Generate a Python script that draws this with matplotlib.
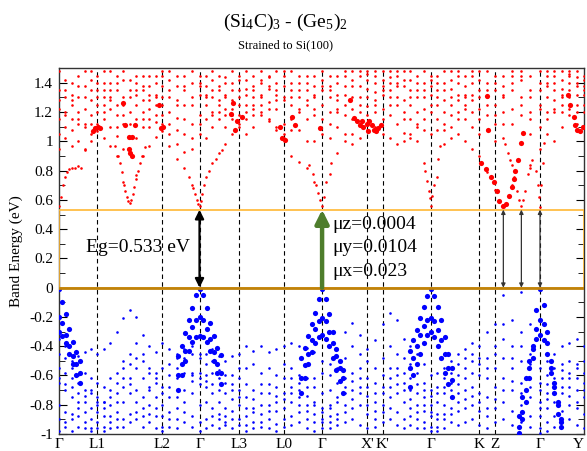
import numpy as np
import matplotlib
matplotlib.use('Agg')
import matplotlib.pyplot as plt
from matplotlib.patches import Rectangle
from matplotlib.ticker import MultipleLocator, FuncFormatter

plt.rcParams['font.family'] = ['Liberation Serif', 'DejaVu Serif']
plt.rcParams['mathtext.fontset'] = 'custom'
plt.rcParams['mathtext.rm'] = 'Liberation Serif'
plt.rcParams['mathtext.it'] = 'Liberation Serif:italic'
plt.rcParams['axes.unicode_minus'] = False

# ---------------- data ----------------
tick_pos = [0, 38.6, 103, 140.6, 179.6, 224.6, 263, 308, 323.6, 371.3, 420, 435.6, 480.6, 524.6]
tick_labels = ['Γ', 'L1', 'L2', 'Γ', 'L3', 'L0', 'Γ', "X'", "K'", 'Γ', 'K', 'Z', 'Γ', 'Y']
gamma_pos = [0, 140.6, 263, 371.3, 480.6]
gap = 0.533
mu_text = ['μz=0.0004', 'μy=0.0104', 'μx=0.023']
extra_arrow_k = [444, 462, 480.6]

# k-points along the path
K = [0, 6.5, 13, 19.5, 26, 32.5, 38.6,
     45, 51.5, 58, 64.5, 71, 77.5, 84, 90.5, 97, 103,
     110.5, 118, 125.5, 133, 140.6,
     147, 153.5, 160, 166.5, 173, 179.6,
     187, 194.5, 202, 209.5, 217, 224.6,
     232, 240, 247.5, 255, 263,
     270.5, 278, 285.5, 293, 300.5, 308,
     315.8, 323.6,
     330.5, 337.5, 344.5, 351, 358, 364.5, 371.3,
     378, 385, 392, 399, 406, 413, 420,
     428, 435.6,
     444, 453, 462, 471, 480.6,
     488, 495, 502.5, 510, 517.5, 524.6]

# conduction bands (small red dots)
cb1 = [0.56, 0.76, 0.82, 0.83, 0.95, 1.00, 1.07,
       1.02, 0.97, 0.90, 0.72, 0.58, 0.77, 0.90, 0.97, 1.03, 1.07,
       0.97, 0.88, 0.82, 0.70, 0.56,
       0.76, 0.85, 0.92, 0.98, 1.05, 1.10,
       1.15, 1.22, 1.18, 1.14, 1.08, 1.02,
       0.90, 0.86, 0.82, 0.72, 0.56,
       0.78, 0.92, 1.00, 1.05, 1.12, 1.18,
       1.20, 1.22,
       1.18, 1.12, 1.06, 1.02, 1.00, 0.85, 0.56,
       0.76, 0.98, 1.02, 1.05, 1.00, 0.95, 0.90,
       0.79, 0.67,
       0.56, 0.70, 0.56, 0.82, 0.55,
       1.05, 1.00, 1.10, 1.22, 1.12, 1.10]
cb2 = [1.05, 1.02, 0.97, 1.00, 0.94, 1.05, 1.12,
       1.15, 1.10, 1.04, 0.95, 0.93, 1.02, 1.10, 1.15, 1.13, 1.12,
       1.05, 0.98, 0.93, 0.95, 1.05,
       1.02, 1.10, 1.15, 1.18, 1.22, 1.18,
       1.25, 1.30, 1.32, 1.27, 1.22, 1.12,
       1.15, 1.08, 1.00, 1.00, 1.05,
       1.02, 1.10, 1.18, 1.22, 1.25, 1.30,
       1.28, 1.32,
       1.30, 1.25, 1.20, 1.15, 1.12, 1.08, 1.05,
       1.08, 1.12, 1.18, 1.20, 1.15, 1.10, 1.05,
       1.08, 1.00,
       1.02, 0.84, 0.99, 0.84, 0.95,
       1.20, 1.22, 1.30, 1.35, 1.25, 1.20]
cb3 = [1.22, 1.18, 1.25, 1.30, 1.22, 1.28, 1.25,
       1.20, 1.28, 1.35, 1.30, 1.12, 1.25, 1.35, 1.22, 1.18, 1.25,
       1.20, 1.16, 1.15, 1.12, 1.18,
       1.25, 1.30, 1.38, 1.32, 1.28, 1.25,
       1.32, 1.38, 1.40, 1.36, 1.32, 1.28,
       1.30, 1.22, 1.15, 1.18, 1.25,
       1.20, 1.28, 1.32, 1.30, 1.38, 1.42,
       1.40, 1.38,
       1.35, 1.30, 1.28, 1.25, 1.30, 1.22, 1.20,
       1.25, 1.28, 1.30, 1.32, 1.25, 1.20, 1.22,
       1.18, 1.12,
       1.20, 1.35, 1.30, 1.05, 1.10,
       1.30, 1.35, 1.42, 1.40, 1.38, 1.32]
cb4 = [1.35, 1.42, 1.40, 1.45, 1.38, 1.42, 1.35,
       1.30, 1.40, 1.45, 1.42, 1.30, 1.40, 1.45, 1.38, 1.32, 1.30,
       1.35, 1.28, 1.25, 1.30, 1.32,
       1.38, 1.42, 1.45, 1.44, 1.40, 1.35,
       1.42, 1.45, 1.48, 1.44, 1.40, 1.38,
       1.40, 1.35, 1.28, 1.32, 1.38,
       1.35, 1.40, 1.45, 1.42, 1.48, 1.46,
       1.45, 1.48,
       1.44, 1.40, 1.38, 1.35, 1.40, 1.35, 1.32,
       1.35, 1.40, 1.42, 1.45, 1.38, 1.32, 1.35,
       1.30, 1.25,
       1.32, 1.45, 1.42, 1.20, 1.25,
       1.40, 1.45, 1.48, 1.46, 1.44, 1.42]
cb5 = [1.15, 1.10, 1.15, 1.20, 1.12, 1.18, 1.20,
       1.25, 1.22, 1.18, 1.12, 1.02, 1.15, 1.20, 1.28, 1.25, 1.18,
       1.12, 1.08, 1.05, 1.02, 1.12,
       1.15, 1.20, 1.25, 1.22, 1.15, 1.12,
       1.05, 1.10, 1.20, 1.15, 1.10, 1.05,
       1.08, 1.20, 1.25, 1.22, 1.15,
       1.12, 1.20, 1.05, 0.98, 1.02, 1.08,
       1.10, 1.05,
       1.02, 0.98, 1.00, 1.05, 1.10, 1.15, 1.25,
       1.15, 1.08, 1.10, 1.15, 1.22, 1.28, 1.30,
       1.25, 1.18,
       1.12, 1.22, 1.18, 1.15, 1.22,
       1.15, 1.28, 1.32, 1.18, 1.20, 1.25]
cb6 = [1.48, 1.30, 1.32, 1.12, 1.48, 1.35, 1.45,
       1.40, 1.48, 1.25, 1.48, 1.42, 1.32, 1.28, 1.45, 1.40, 1.45,
       1.42, 1.38, 1.45, 1.40, 1.45,
       1.45, 1.35, 1.28, 1.40, 1.48, 1.45,
       1.36, 1.25, 1.30, 1.45, 1.48, 1.45,
       1.48, 1.45, 1.40, 1.45, 1.35,
       1.45, 1.32, 1.38, 1.48, 1.20, 1.36,
       1.25, 1.42,
       1.48, 1.45, 1.48, 1.42, 1.45, 1.40, 1.45,
       1.45, 1.48, 1.36, 1.40, 1.45, 1.48, 1.42,
       1.40, 1.45,
       1.45, 1.48, 1.45, 1.35, 1.40,
       1.48, 1.40, 1.36, 1.30, 1.48, 1.45]
cb7 = [1.28, 1.35, 1.08, 1.15, 1.30, 1.12, 1.30,
       1.35, 1.30, 1.40, 1.18, 1.20, 1.35, 1.38, 1.32, 1.45, 1.38,
       1.30, 1.45, 1.35, 1.25, 1.38,
       1.32, 1.18, 1.20, 1.30, 1.35, 1.42,
       1.20, 1.18, 1.25, 1.22, 1.28, 1.30,
       1.25, 1.30, 1.35, 1.30, 1.42,
       1.30, 1.45, 1.25, 1.15, 1.30, 1.24,
       1.34, 1.15,
       1.25, 1.38, 1.15, 1.30, 1.20, 1.30, 1.38,
       1.30, 1.20, 1.25, 1.28, 1.32, 1.40, 1.15,
       1.35, 1.40,
       1.38, 1.12, 1.25, 1.30, 1.35,
       1.38, 1.20, 1.25, 1.45, 1.32, 1.35]
cb8 = [0.95, 1.20, 1.28, 1.38, 1.10, 1.48, 1.40,
       1.48, 1.35, 1.10, 1.25, 1.35, 1.45, 1.15, 1.10, 1.30, 1.48,
       1.48, 1.25, 1.38, 1.48, 1.40,
       1.30, 1.48, 1.35, 1.10, 1.18, 1.30,
       1.48, 1.35, 1.42, 1.38, 1.35, 1.48,
       1.35, 1.40, 1.45, 1.38, 1.48,
       1.38, 1.22, 1.48, 1.38, 1.45, 1.48,
       1.48, 1.35,
       1.40, 1.48, 1.42, 1.48, 1.35, 1.48, 1.42,
       1.40, 1.35, 1.48, 1.48, 1.30, 1.45, 1.48,
       1.48, 1.35,
       1.30, 1.40, 1.48, 1.45, 1.48,
       1.45, 1.48, 1.20, 1.48, 1.40, 1.38]

# extra small red dots along the conduction-band valleys
cv_k = [2, 4, 8, 10, 16, 22,
        56, 59, 61, 63, 65, 66, 68, 69.5, 72.5, 74, 75.5, 77, 79, 81, 83, 86,
        130, 134, 136, 138, 139.5, 142, 143.5, 145, 150, 157, 163,
        250, 254, 257, 259, 261, 265, 267, 272,
        366, 368, 369.5, 370.5, 373, 375, 379, 381,
        446, 449, 451, 455, 458, 460, 464, 466, 469, 473,
        477, 478.5, 479.5, 482, 483.5, 485]
cv_e = [0.62, 0.70, 0.79, 0.81, 0.82, 0.82,
        0.97, 0.90, 0.85, 0.79, 0.70, 0.66, 0.62, 0.59, 0.60, 0.64, 0.69, 0.74, 0.80, 0.85, 0.90, 0.96,
        0.76, 0.68, 0.64, 0.60, 0.57, 0.59, 0.64, 0.70, 0.80, 0.88, 0.94,
        0.84, 0.78, 0.70, 0.65, 0.60, 0.62, 0.72, 0.85,
        0.80, 0.73, 0.66, 0.61, 0.63, 0.70, 0.88, 0.97,
        0.98, 0.92, 0.87, 0.76, 0.66, 0.60, 0.60, 0.66, 0.78, 0.87,
        0.80, 0.70, 0.62, 0.70, 0.85, 0.99]

# valence bands (small blue dots)
vb1 = [-0.45, -0.48, -0.50, -0.47, -0.44, -0.42, -0.45,
       -0.42, -0.38, -0.30, -0.21, -0.15, -0.20, -0.32, -0.40, -0.44, -0.38,
       -0.42, -0.45, -0.50, -0.58, -0.62,
       -0.60, -0.50, -0.47, -0.50, -0.47, -0.45,
       -0.40, -0.43, -0.40, -0.44, -0.42, -0.40,
       -0.38, -0.40, -0.41, -0.44, -0.50,
       -0.52, -0.42, -0.30, -0.24, -0.32, -0.42,
       -0.36, -0.25,
       -0.17, -0.22, -0.35, -0.40, -0.45, -0.52, -0.60,
       -0.58, -0.55, -0.50, -0.45, -0.42, -0.38, -0.40,
       -0.30, -0.25,
       -0.05, -0.22, -0.03, -0.25, -0.55,
       -0.50, -0.45, -0.40, -0.38, -0.35, -0.40]
vb2 = [-0.55, -0.58, -0.62, -0.65, -0.70, -0.72, -0.75,
       -0.78, -0.75, -0.65, -0.55, -0.45, -0.38, -0.45, -0.55, -0.62, -0.68,
       -0.60, -0.55, -0.48, -0.45, -0.48,
       -0.52, -0.58, -0.62, -0.65, -0.60, -0.55,
       -0.55, -0.52, -0.58, -0.55, -0.60, -0.52,
       -0.55, -0.60, -0.68, -0.62, -0.58,
       -0.60, -0.55, -0.48, -0.40, -0.45, -0.50,
       -0.55, -0.48,
       -0.40, -0.45, -0.48, -0.52, -0.58, -0.65, -0.70,
       -0.68, -0.62, -0.58, -0.52, -0.55, -0.50, -0.48,
       -0.55, -0.45,
       -0.25, -0.40, -0.30, -0.45, -0.65,
       -0.60, -0.55, -0.52, -0.50, -0.55, -0.58]
vb3 = [-0.65, -0.70, -0.75, -0.72, -0.78, -0.82, -0.80,
       -0.78, -0.80, -0.72, -0.68, -0.62, -0.55, -0.62, -0.70, -0.75, -0.72,
       -0.68, -0.62, -0.58, -0.60, -0.66,
       -0.68, -0.72, -0.78, -0.82, -0.76, -0.75,
       -0.82, -0.85, -0.80, -0.84, -0.78, -0.72,
       -0.68, -0.65, -0.62, -0.68, -0.72,
       -0.70, -0.65, -0.62, -0.58, -0.55, -0.62,
       -0.65, -0.60,
       -0.55, -0.60, -0.65, -0.70, -0.72, -0.75, -0.80,
       -0.78, -0.72, -0.65, -0.60, -0.62, -0.58, -0.60,
       -0.62, -0.55,
       -0.48, -0.55, -0.50, -0.62, -0.78,
       -0.72, -0.68, -0.62, -0.58, -0.62, -0.65]
vb4 = [-0.80, -0.85, -0.90, -0.88, -0.85, -0.90, -0.78,
       -0.82, -0.88, -0.85, -0.78, -0.72, -0.70, -0.75, -0.80, -0.88, -0.95,
       -0.85, -0.75, -0.70, -0.72, -0.80,
       -0.78, -0.82, -0.86, -0.88, -0.84, -0.80,
       -0.88, -0.82, -0.86, -0.80, -0.84, -0.82,
       -0.72, -0.75, -0.80, -0.78, -0.82,
       -0.80, -0.78, -0.72, -0.70, -0.68, -0.74,
       -0.78, -0.72,
       -0.68, -0.72, -0.78, -0.82, -0.85, -0.80, -0.85,
       -0.86, -0.80, -0.75, -0.72, -0.70, -0.68, -0.72,
       -0.75, -0.68,
       -0.62, -0.70, -0.65, -0.75, -0.88,
       -0.82, -0.78, -0.72, -0.68, -0.70, -0.75]
vb5 = [-0.90, -0.95, -0.98, -0.95, -0.92, -0.96, -0.92,
       -0.95, -0.92, -0.95, -0.90, -0.86, -0.85, -0.88, -0.92, -0.96, -0.98,
       -0.95, -0.90, -0.85, -0.88, -0.92,
       -0.90, -0.94, -0.96, -0.92, -0.96, -0.90,
       -0.94, -0.92, -0.95, -0.90, -0.93, -0.90,
       -0.88, -0.85, -0.90, -0.92, -0.96,
       -0.92, -0.90, -0.85, -0.82, -0.80, -0.86,
       -0.90, -0.85,
       -0.82, -0.85, -0.90, -0.94, -0.96, -0.92, -0.95,
       -0.95, -0.90, -0.86, -0.84, -0.82, -0.80, -0.84,
       -0.88, -0.82,
       -0.78, -0.84, -0.80, -0.88, -0.96,
       -0.92, -0.88, -0.84, -0.80, -0.82, -0.86]
vb6 = [-0.35, -0.40, -0.55, -0.60, -0.58, -0.62, -0.65,
       -0.68, -0.62, -0.58, -0.50, -0.52, -0.48, -0.50, -0.58, -0.65, -0.55,
       -0.52, -0.48, -0.42, -0.40, -0.45,
       -0.45, -0.42, -0.56, -0.60, -0.66, -0.70,
       -0.75, -0.70, -0.66, -0.72, -0.68, -0.62,
       -0.62, -0.70, -0.74, -0.80, -0.85,
       -0.82, -0.75, -0.68, -0.64, -0.62, -0.68,
       -0.72, -0.68,
       -0.62, -0.55, -0.58, -0.62, -0.66, -0.70, -0.74,
       -0.72, -0.68, -0.70, -0.66, -0.48, -0.45, -0.52,
       -0.48, -0.40,
       -0.35, -0.48, -0.40, -0.52, -0.70,
       -0.66, -0.62, -0.56, -0.62, -0.52, -0.50]
vb7 = [-0.62, -0.66, -0.68, -0.78, -0.74, -0.70, -0.85,
       -0.88, -0.70, -0.78, -0.62, -0.66, -0.78, -0.82, -0.68, -0.58, -0.80,
       -0.75, -0.82, -0.78, -0.64, -0.58,
       -0.64, -0.66, -0.70, -0.72, -0.70, -0.62,
       -0.66, -0.76, -0.72, -0.66, -0.74, -0.76,
       -0.78, -0.80, -0.84, -0.86, -0.90,
       -0.88, -0.86, -0.80, -0.76, -0.72, -0.80,
       -0.84, -0.80,
       -0.75, -0.66, -0.70, -0.76, -0.80, -0.84, -0.88,
       -0.90, -0.86, -0.82, -0.78, -0.76, -0.74, -0.78,
       -0.82, -0.76,
       -0.70, -0.64, -0.72, -0.68, -0.82,
       -0.76, -0.72, -0.68, -0.74, -0.78, -0.70]
vb8 = [-0.98, -0.92, -0.86, -0.82, -0.96, -0.98, -0.96,
       -0.98, -0.96, -0.90, -0.95, -0.92, -0.90, -0.95, -0.86, -0.82, -0.88,
       -0.90, -0.96, -0.92, -0.95, -0.98,
       -0.96, -0.88, -0.90, -0.94, -0.90, -0.94,
       -0.98, -0.96, -0.92, -0.96, -0.98, -0.95,
       -0.94, -0.92, -0.96, -0.98, -0.92,
       -0.96, -0.94, -0.92, -0.90, -0.94, -0.96,
       -0.95, -0.92,
       -0.90, -0.94, -0.96, -0.88, -0.90, -0.96, -0.98,
       -0.98, -0.96, -0.92, -0.94, -0.92, -0.90, -0.94,
       -0.96, -0.92,
       -0.90, -0.94, -0.92, -0.95, -0.99,
       -0.98, -0.95, -0.92, -0.90, -0.94, -0.96]

# heavy (large blue dots) valence bands around each Gamma point
dk = [-21, -17.5, -14, -10.5, -7, -3.5, 0, 3.5, 7, 10.5, 14, 17.5, 21]
nan = np.nan
hv_g0 = [[nan] * 6 + [-0.01, -0.10, -0.18, -0.28, -0.37, -0.44, -0.50],
         [nan] * 6 + [-0.20, -0.24, -0.32, -0.40, -0.47, -0.52, -0.58],
         [nan] * 6 + [-0.30, -0.33, -0.38, -0.45, -0.52, -0.60, -0.65]]
hv_g1 = [[-0.47, -0.40, -0.31, -0.22, -0.14, -0.05, -0.01, -0.05, -0.14, -0.24, -0.33, -0.41, -0.46],
         [-0.60, -0.52, -0.43, -0.34, -0.27, -0.22, -0.20, -0.22, -0.28, -0.35, -0.44, -0.52, -0.58],
         [-0.70, -0.60, -0.50, -0.43, -0.37, -0.34, -0.33, -0.34, -0.37, -0.43, -0.50, -0.58, -0.66]]
hv_g2 = [[-0.48, -0.41, -0.33, -0.25, -0.17, -0.08, -0.01, -0.08, -0.18, -0.30, -0.42, -0.50, -0.56],
         [-0.62, -0.53, -0.45, -0.36, -0.28, -0.23, -0.21, -0.23, -0.30, -0.38, -0.47, -0.55, -0.62],
         [-0.72, -0.62, -0.52, -0.44, -0.38, -0.34, -0.32, -0.35, -0.40, -0.48, -0.56, -0.64, -0.72]]
hv_g3 = [[-0.43, -0.36, -0.29, -0.21, -0.13, -0.06, -0.01, -0.06, -0.13, -0.22, -0.34, -0.45, -0.55],
         [-0.55, -0.48, -0.40, -0.32, -0.26, -0.22, -0.21, -0.23, -0.29, -0.36, -0.45, -0.55, -0.63],
         [-0.68, -0.60, -0.52, -0.45, -0.38, -0.32, -0.30, -0.34, -0.40, -0.48, -0.58, -0.66, -0.75]]
hv_g4 = [[-0.95, -0.85, -0.70, -0.55, -0.40, -0.15, -0.01, -0.12, -0.30, -0.50, -0.65, -0.80, -0.90],
         [-0.99, -0.90, -0.78, -0.62, -0.48, -0.28, -0.22, -0.25, -0.38, -0.58, -0.72, -0.86, -0.95],
         [-0.88, -0.75, -0.62, -0.50, -0.42, -0.35, -0.32, -0.36, -0.45, -0.55, -0.68, -0.78, -0.92]]

# heavy (large red dots) conduction states
hc_k = [34, 36.5, 39, 41.5,
        64, 66, 76, 70, 73, 70, 71, 73,
        102, 104, 100,
        174, 172, 178, 183, 176,
        221, 223, 226, 233, 236, 261,
        291, 295, 298, 301, 304, 308, 310, 313, 315, 317, 319, 322, 303, 309,
        429, 428,
        421.3, 426.3, 431.3, 434.3, 437.3, 439.3, 443.3, 446.3, 449.3, 452.3, 454.3, 455.3, 458.3, 461.3, 463.3,
        509, 511, 515, 516, 518, 521, 524]
hc_e = [1.07, 1.09, 1.10, 1.09,
        1.26, 1.11, 1.11, 1.03, 1.03, 0.95, 0.92, 0.90,
        1.09, 1.10, 1.25,
        1.26, 1.19, 1.14, 1.17, 1.08,
        1.10, 1.02, 1.01, 1.17, 1.11, 1.09,
        1.28, 1.16, 1.14, 1.11, 1.10, 1.12, 1.14, 1.11, 1.08, 1.07, 1.09, 1.11, 1.14, 1.07,
        1.08, 1.31,
        0.85, 0.81, 0.76, 0.72, 0.66, 0.59, 0.56, 0.57, 0.63, 0.69, 0.74, 0.80, 0.87, 0.99, 1.06,
        1.32, 1.25, 1.17, 1.11, 1.08, 1.07, 1.10]

# ---------------- plot ----------------
fig = plt.figure(figsize=(5.87, 4.51), dpi=100)
ax = fig.add_axes([0.1, 0.0377, 0.895, 0.811])

red = '#ff0000'
blue = '#0000ff'
small = 3.5
big = 14

for band in [cb1, cb2, cb3, cb4, cb5, cb6, cb7, cb8]:
    ax.scatter(K, band, s=small, c=red, linewidths=0, zorder=3)
ax.scatter(cv_k, cv_e, s=small, c=red, linewidths=0, zorder=3)
for band in [vb1, vb2, vb3, vb4, vb5, vb6, vb7, vb8]:
    ax.scatter(K, band, s=small, c=blue, linewidths=0, zorder=3)

ax.scatter(hc_k, hc_e, s=big, c=red, linewidths=0, zorder=4)
for g, bands in zip(gamma_pos, [hv_g0, hv_g1, hv_g2, hv_g3, hv_g4]):
    for b in bands:
        ax.scatter(np.array(dk) + g, b, s=big, c=blue, linewidths=0, zorder=4)

# vertical dashed lines at high-symmetry points
for x in tick_pos[1:-1]:
    ax.axvline(x, color='black', lw=0.8, ls=(0, (4, 3)), zorder=2)

# band-gap box and lines
ax.add_patch(Rectangle((tick_pos[0], 0), tick_pos[-1] - tick_pos[0], gap,
                       fill=False, ec='#ffb833', lw=1.2, zorder=5))
ax.axhline(0, color='#c0820a', lw=2, zorder=5)

# arrows
ax.annotate('', xy=(gamma_pos[1], gap), xytext=(gamma_pos[1], 0),
            arrowprops=dict(arrowstyle='<|-|>', color='black', lw=1.6,
                            mutation_scale=13, shrinkA=0, shrinkB=0), zorder=6)
ax.annotate('', xy=(gamma_pos[2], gap), xytext=(gamma_pos[2], 0),
            arrowprops=dict(arrowstyle='-|>', color='#4e7d2c', lw=3.2,
                            mutation_scale=20, shrinkA=0, shrinkB=0), zorder=6)
for x in extra_arrow_k:
    ax.annotate('', xy=(x, gap), xytext=(x, 0),
                arrowprops=dict(arrowstyle='<|-|>', color='#333333', lw=0.9,
                                mutation_scale=6, shrinkA=0, shrinkB=0), zorder=6)

ax.text(27.3, 0.276, f'Eg={gap} eV', fontsize=14, ha='left', va='center', zorder=7)
for i, t in enumerate(mu_text):
    ax.text(273.3, 0.434 - i * 0.162, t, fontsize=14, ha='left', va='center', zorder=7)

# axes
ax.set_xlim(tick_pos[0], tick_pos[-1])
ax.set_ylim(-1, 1.5)
ax.set_xticks(tick_pos)
ax.set_xticklabels(tick_labels, fontsize=11)
ax.get_xticklabels()[-1].set_horizontalalignment('right')
ax.yaxis.set_major_locator(MultipleLocator(0.2))
ax.yaxis.set_minor_locator(MultipleLocator(0.1))
ax.yaxis.set_major_formatter(FuncFormatter(lambda v, p: f'{round(v, 2):g}' if v < 1.45 else ''))
ax.tick_params(axis='y', which='both', direction='in', right=True, labelsize=11, pad=4)
ax.tick_params(axis='y', which='major', length=6)
ax.tick_params(axis='y', which='minor', length=4)
ax.tick_params(axis='x', direction='in', length=0, pad=3)
for s in ax.spines.values():
    s.set_linewidth(1.0)
    s.set_color('#333333')
ax.set_ylabel('Band Energy (eV)', fontsize=11, labelpad=4)

fig.text(0.486, 0.951, r'(Si$_4$C)$_3$ - (Ge$_5$)$_2$', fontsize=14, ha='center', va='center')
fig.text(0.486, 0.900, 'Strained to Si(100)', fontsize=9, ha='center', va='center')

fig.savefig('out.png', dpi=100)
